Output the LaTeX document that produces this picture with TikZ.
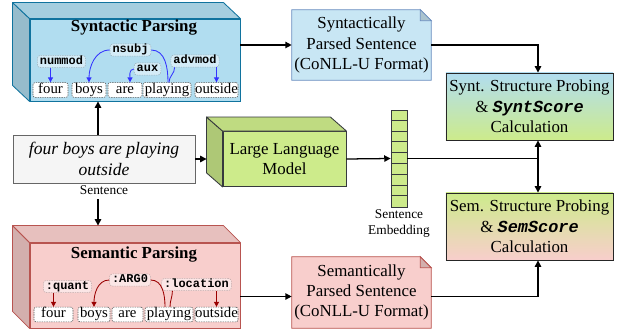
\documentclass[tikz,border=0pt]{standalone}
\usepackage{fontspec}
\setmainfont{Liberation Serif}
\setmonofont{Liberation Mono}
\usetikzlibrary{shapes,arrows.meta,backgrounds}

\definecolor{synfill}{HTML}{B1DDF0}
\definecolor{synedge}{HTML}{10739E}
\definecolor{semfill}{HTML}{F8CECC}
\definecolor{semedge}{HTML}{B85450}
\definecolor{llmgreen}{HTML}{CDEB8B}
\definecolor{llmedge}{HTML}{36393D}
\definecolor{notefill}{HTML}{C8E6F4}
\definecolor{noteedge}{HTML}{6C8EBF}
\definecolor{depblue}{HTML}{3333FF}
\definecolor{depred}{HTML}{990000}

\tikzset{
  face/.style={draw=#1, line width=0.6pt, inner sep=0pt},
  wordbox/.style={draw=black!65, dash pattern=on 1pt off 0.7pt, rounded corners=1.5pt, fill=white,
    inner xsep=0pt, inner ysep=0.6pt, text height=7pt, text depth=2.3pt, font=\fontsize{10.5}{12}\selectfont},
  relbox/.style={dash pattern=on 1pt off 0.7pt, rounded corners=2pt, inner xsep=1.8pt, inner ysep=0.8pt,
    text height=5.6pt, text depth=1.4pt, font=\fontsize{8.5}{10}\selectfont\ttfamily\bfseries},
  synrel/.style={relbox, draw=synedge!55!black!40, fill=synfill!55!white},
  semrel/.style={relbox, draw=semedge!55!black!40, fill=semfill!50!white},
  deparc/.style={draw=#1, line width=0.6pt},
  deptip/.style={-{Triangle[length=3.5pt,width=3.5pt]}},
  arr/.style={line width=0.9pt, -{Triangle[length=4.5pt,width=4.5pt]}},
  arrboth/.style={line width=0.9pt, {Triangle[length=4.5pt,width=4.5pt]}-{Triangle[length=4.5pt,width=4.5pt]}},
  probe/.style={draw=black!85, line width=0.6pt, minimum width=4.175cm, minimum height=1.675cm, align=center, inner sep=0pt},
  notebox/.style={minimum width=3.475cm, minimum height=1.75cm, align=center, inner sep=0pt},
  captext/.style={font=\fontsize{9.5}{12}\selectfont, align=center},
  title/.style={font=\fontsize{12}{14}\selectfont\bfseries}
}

% side faces of a cube drawn around its front node
\newcommand{\cubesides}[4]{%
  \draw[draw=#4, fill=#3!85!black, line width=0.6pt, line join=round] (#1.south west) -- ([shift={#2}]#1.south west)
    -- ([shift={#2}]#1.north west) -- (#1.north west) -- cycle;
  \draw[draw=#4, fill=#3!93!black, line width=0.6pt, line join=round] (#1.north west) -- ([shift={#2}]#1.north west)
    -- ([shift={#2}]#1.north east) -- (#1.north east) -- cycle;}

% note outline with folded corner
\newcommand{\notefold}[3]{%
  \draw[draw=#3, fill=#2, line width=0.6pt] (#1.north west) -- ([xshift=-0.275cm]#1.north east)
    -- ([yshift=-0.275cm]#1.north east) -- (#1.south east) -- (#1.south west) -- cycle;
  \draw[draw=#3, fill=#2!85!black, line width=0.6pt] ([xshift=-0.275cm]#1.north east)
    -- ([xshift=-0.275cm,yshift=-0.275cm]#1.north east) -- ([yshift=-0.275cm]#1.north east) -- cycle;}

\begin{document}
\begin{tikzpicture}[x=0.025cm, y=-0.025cm, font=\fontsize{12}{14.5}\selectfont]
  \useasboundingbox (0,0) rectangle (622,334);

  % syntactic parsing
  \node[face=synedge, fill=synfill, minimum width=5.25cm, minimum height=2.05cm] (syn) at (135,60) {};
  \cubesides{syn}{(-17,-16)}{synfill}{synedge}
  \node[title] (syntitle) at (134,28) {Syntactic Parsing};

  \node[wordbox, minimum width=0.875cm] (sfour) at (50.5,90) {four};
  \node[wordbox, minimum width=0.85cm] (sboys) at (89,90) {boys};
  \node[wordbox, minimum width=0.85cm] (sare) at (125,90) {are};
  \node[wordbox, minimum width=1.2cm] (splaying) at (167,90) {playing};
  \node[wordbox, minimum width=1.075cm] (soutside) at (216.5,90) {outside};

  \node[synrel] (nummod) at (61.5,61.5) {nummod};
  \node[synrel] (nsubj) at (130.5,50) {nsubj};
  \node[synrel] (aux) at (147.5,69) {aux};
  \node[synrel] (advmod) at (195,61) {advmod};

  \draw[deparc=depblue, deptip] (nummod.south -| sfour.north) -- (sfour.north);
  \draw[deparc=depblue, deptip] (nsubj.west) to[out=180, in=90] (sboys.north);
  \draw[deparc=depblue] (nsubj.east) to[out=0, in=90] ([xshift=0.025cm]splaying.north);
  \draw[deparc=depblue, deptip] (aux.west) to[out=180, in=90] ([xshift=0.125cm]sare.north);
  \draw[deparc=depblue] ([xshift=0.1cm]advmod.south west) to[out=270, in=90] ([xshift=0.05cm]splaying.north);
  \draw[deparc=depblue, deptip] (advmod.south -| soutside.north) -- (soutside.north);

  % semantic parsing
  \node[face=semedge, fill=semfill, minimum width=5.25cm, minimum height=2.125cm] (sem) at (135,285.5) {};
  \cubesides{sem}{(-17,-17)}{semfill}{semedge}
  \node[title] (semtitle) at (134,255) {Semantic Parsing};

  \node[wordbox, minimum width=0.975cm] (mfour) at (53.5,314.5) {four};
  \node[wordbox, minimum width=0.8cm] (mboys) at (94,314.5) {boys};
  \node[wordbox, minimum width=0.775cm] (mare) at (127.5,314.5) {are};
  \node[wordbox, minimum width=1.2cm] (mplaying) at (169,314.5) {playing};
  \node[wordbox, minimum width=1.075cm] (moutside) at (216.5,314.5) {outside};

  \node[semrel] (quant) at (67.5,286.5) {:quant};
  \node[semrel] (argzero) at (130,280) {:ARG0};
  \node[semrel] (location) at (196.5,284.5) {:location};

  \draw[deparc=depred, deptip] (quant.south -| mfour.north) -- (mfour.north);
  \draw[deparc=depred, deptip] (argzero.west) to[out=180, in=90] (mboys.north);
  \draw[deparc=depred] (argzero.east) to[out=0, in=90] ([xshift=-0.1cm]mplaying.north);
  \draw[deparc=depred] ([xshift=0.275cm]location.south west) to[out=270, in=90] ([xshift=0.025cm]mplaying.north);
  \draw[deparc=depred, deptip] (location.south -| moutside.north) -- (moutside.north);

  % sentence and model
  \node[draw=black!60, fill=black!4, line width=0.6pt, minimum width=4.55cm, minimum height=1.2cm, align=center,
    inner sep=0pt, font=\fontsize{12.5}{15.5}\selectfont\itshape] (sent) at (104,159) {four boys are playing\\outside};
  \node[captext] (sentcap) at (104,190) {Sentence};

  \node[face=llmedge, fill=llmgreen, minimum width=3.075cm, minimum height=1.375cm, align=center] (llm) at (284.5,159) {Large Language\\Model};
  \cubesides{llm}{(-16,-14)}{llmgreen}{llmedge}

  \node[draw=llmedge, fill=llmgreen, line width=0.6pt, minimum width=0.4cm, minimum height=2.425cm, inner sep=0pt] (emb) at (399,158.5) {};
  \foreach \k in {1,...,8}
    \draw[llmedge, line width=0.6pt] ([yshift=-\k*0.26944cm]emb.north west) -- ([yshift=-\k*0.26944cm]emb.north east);
  \node[captext] (embcap) at (399,223.5) {Sentence\\Embedding};

  % parsed outputs
  \node[notebox] (synnote) at (361.5,45) {Syntactically\\Parsed Sentence\\(CoNLL-U Format)};
  \node[notebox, minimum height=1.775cm] (semnote) at (361.5,292.5) {Semantically\\Parsed Sentence\\(CoNLL-U Format)};
  \begin{scope}[on background layer]
    \notefold{synnote}{notefill}{noteedge}
    \notefold{semnote}{semfill}{semedge}
  \end{scope}

  % probing
  \node[probe, top color=synfill, bottom color=llmgreen] (synprobe) at (529.5,106.5)
    {Synt. Structure Probing\\\& \texttt{\textbf{\textit{SyntScore}}}\\Calculation};
  \node[probe, top color=llmgreen, bottom color=semfill] (semprobe) at (529.5,226.5)
    {Sem. Structure Probing\\\& \texttt{\textbf{\textit{SemScore}}}\\Calculation};

  % connectors
  \coordinate (jtop) at ([xshift=0.2125cm]synprobe.north);
  \coordinate (jmid) at ([xshift=0.2125cm]synprobe.south);
  \coordinate (jsem) at ([xshift=0.2125cm]semprobe.north);
  \coordinate (jbot) at ([xshift=0.2125cm]semprobe.south);
  \coordinate (semin) at ([yshift=-0.1cm]semnote.west);
  \coordinate (semout) at ([yshift=-0.1cm]semnote.east);
  \coordinate (synup) at ([xshift=-0.15cm]sent.north);
  \coordinate (capdn) at ([xshift=-0.15cm]sentcap.south);
  \coordinate (semtop) at ([yshift=0.425cm]sem.north);
  \coordinate (llmin) at ([xshift=-0.4cm]llm.west);

  \draw[arr] (synup) -- (synup |- syn.south);
  \draw[arr] (capdn) -- (capdn |- semtop);
  \draw[arr] (sent.east) -- (llmin);
  \draw[arr] (llm.east) -- (emb.west);
  \draw[arr] (synnote.west -| syn.east) -- (synnote.west);
  \draw[arr] (semin -| sem.east) -- (semin);
  \draw[arr] (synnote.east) -| (jtop);
  \draw[arr] (semout) -| (jbot);
  \draw[line width=0.9pt] (emb.east) -- (emb.east -| jmid);
  \draw[arrboth] (jmid) -- (jsem);
\end{tikzpicture}
\end{document}
